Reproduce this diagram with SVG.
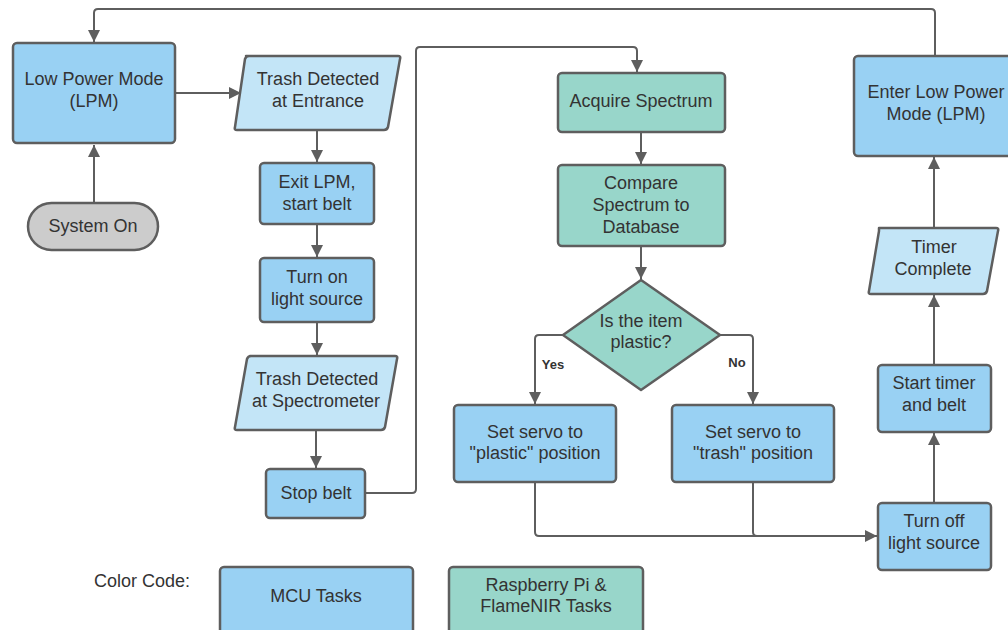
<svg xmlns="http://www.w3.org/2000/svg" width="1008" height="630" viewBox="0 0 1008 630">
<style>
.b{fill:#99d1f3;stroke:#5e5e5e;stroke-width:2.5}
.l{fill:#c3e5f7;stroke:#5e5e5e;stroke-width:2.5;stroke-linejoin:round}
.g{fill:#98d6ca;stroke:#5e5e5e;stroke-width:2.5;stroke-linejoin:round}
.s{fill:#cccccc;stroke:#5e5e5e;stroke-width:2.5}
text{font-family:"Liberation Sans",Arial,sans-serif;font-size:18px;fill:#333333;text-anchor:middle}
.lbl{font-size:13px;font-weight:bold}
.c{fill:none;stroke:#5e5e5e;stroke-width:2;stroke-linejoin:round}
</style>
<defs>
<marker id="a" viewBox="0 0 10 10" refX="10" refY="5" markerWidth="12" markerHeight="12" markerUnits="userSpaceOnUse" orient="auto">
<path d="M0,0 L10,5 L0,10 z" fill="#5e5e5e"/>
</marker>
</defs>
<rect width="1008" height="630" fill="#ffffff"/>
<g id="connectors">
<path class="c" d="M94,203 V145" marker-end="url(#a)"/>
<path class="c" d="M935,55 V13 Q935,9 931,9 H98 Q94,9 94,13 V42" marker-end="url(#a)"/>
<path class="c" d="M175,93 H241" marker-end="url(#a)"/>
<path class="c" d="M317,130 V162" marker-end="url(#a)"/>
<path class="c" d="M317,224 V257" marker-end="url(#a)"/>
<path class="c" d="M317,322 V355" marker-end="url(#a)"/>
<path class="c" d="M316,430 V468" marker-end="url(#a)"/>
<path class="c" d="M365,493 H412 Q416,493 416,489 V51 Q416,47 420,47 H633 Q637,47 637,51 V72" marker-end="url(#a)"/>
<path class="c" d="M641,132 V164" marker-end="url(#a)"/>
<path class="c" d="M641,246 V279" marker-end="url(#a)"/>
<path class="c" d="M563,335 H539 Q535,335 535,339 V404" marker-end="url(#a)"/>
<path class="c" d="M720,335 H749 Q753,335 753,339 V404" marker-end="url(#a)"/>
<path class="c" d="M535,482 V532 Q535,536 539,536 H877" marker-end="url(#a)"/>
<path class="c" d="M753,482 V532 Q753,536 757,536"/>
<path class="c" d="M934,503 V433" marker-end="url(#a)"/>
<path class="c" d="M934,365 V295" marker-end="url(#a)"/>
<path class="c" d="M934,227 V157" marker-end="url(#a)"/>
<text class="lbl" x="553" y="369">Yes</text>
<text class="lbl" x="737" y="367">No</text>
</g>
<g id="lpm">
<rect class="b" x="13" y="43" width="162" height="100" rx="4"/>
<text x="94" y="85">Low Power Mode</text>
<text x="94" y="107">(LPM)</text>
</g>
<g id="system-on">
<rect class="s" x="28" y="203" width="130" height="47" rx="23.5"/>
<text x="93" y="232">System On</text>
</g>
<g id="trash-entrance">
<path class="l" d="M246,56 H398 Q401,56 400,59 L388,127 Q387,130 384,130 H237 Q234,130 235,127 L245,59 Q246,56 249,56 Z"/>
<text x="318" y="85">Trash Detected</text>
<text x="318" y="107">at Entrance</text>
</g>
<g id="exit-lpm">
<rect class="b" x="260" y="163" width="114" height="61" rx="4"/>
<text x="317" y="188">Exit LPM,</text>
<text x="317" y="210">start belt</text>
</g>
<g id="light-on">
<rect class="b" x="260" y="258" width="114" height="64" rx="4"/>
<text x="317" y="283">Turn on</text>
<text x="317" y="305">light source</text>
</g>
<g id="trash-spectrometer">
<path class="l" d="M250,356 H395 Q398,356 397,359 L385,427 Q384,430 381,430 H237 Q234,430 235,427 L247,359 Q248,356 251,356 Z"/>
<text x="317" y="385">Trash Detected</text>
<text x="316" y="407">at Spectrometer</text>
</g>
<g id="stop-belt">
<rect class="b" x="266" y="469" width="99" height="49" rx="4"/>
<text x="316" y="499">Stop belt</text>
</g>
<g id="acquire">
<rect class="g" x="558" y="73" width="167" height="59" rx="4"/>
<text x="641" y="107">Acquire Spectrum</text>
</g>
<g id="compare">
<rect class="g" x="558" y="165" width="167" height="81" rx="4"/>
<text x="641" y="189">Compare</text>
<text x="641" y="211">Spectrum to</text>
<text x="641" y="233">Database</text>
</g>
<g id="decision">
<path class="g" d="M641,280 L720,335 L641,390 L563,335 Z"/>
<text x="641" y="327">Is the item</text>
<text x="641" y="348">plastic?</text>
</g>
<g id="servo-plastic">
<rect class="b" x="454" y="405" width="162" height="77" rx="4"/>
<text x="535" y="438">Set servo to</text>
<text x="535" y="459">"plastic" position</text>
</g>
<g id="servo-trash">
<rect class="b" x="672" y="405" width="162" height="77" rx="4"/>
<text x="753" y="438">Set servo to</text>
<text x="753" y="459">"trash" position</text>
</g>
<g id="light-off">
<rect class="b" x="878" y="503" width="113" height="67" rx="4"/>
<text x="934" y="527">Turn off</text>
<text x="934" y="549">light source</text>
</g>
<g id="start-timer">
<rect class="b" x="878" y="365" width="113" height="67" rx="4"/>
<text x="934" y="389">Start timer</text>
<text x="934" y="411">and belt</text>
</g>
<g id="timer-complete">
<path class="l" d="M879,228 H996 Q999,228 998,231 L987,291 Q986,294 983,294 H871 Q868,294 869,291 L879,231 Z"/>
<text x="934" y="253">Timer</text>
<text x="933" y="275">Complete</text>
</g>
<g id="enter-lpm">
<rect class="b" x="854" y="56" width="166" height="100" rx="4"/>
<text x="936" y="98">Enter Low Power</text>
<text x="936" y="120">Mode (LPM)</text>
</g>
<g id="legend">
<text x="142" y="587">Color Code:</text>
<rect class="b" x="220" y="567" width="193" height="70" rx="4"/>
<text x="316" y="602">MCU Tasks</text>
<rect class="g" x="449" y="567" width="194" height="70" rx="4"/>
<text x="546" y="591">Raspberry Pi &amp;</text>
<text x="546" y="612">FlameNIR Tasks</text>
</g>
</svg>
